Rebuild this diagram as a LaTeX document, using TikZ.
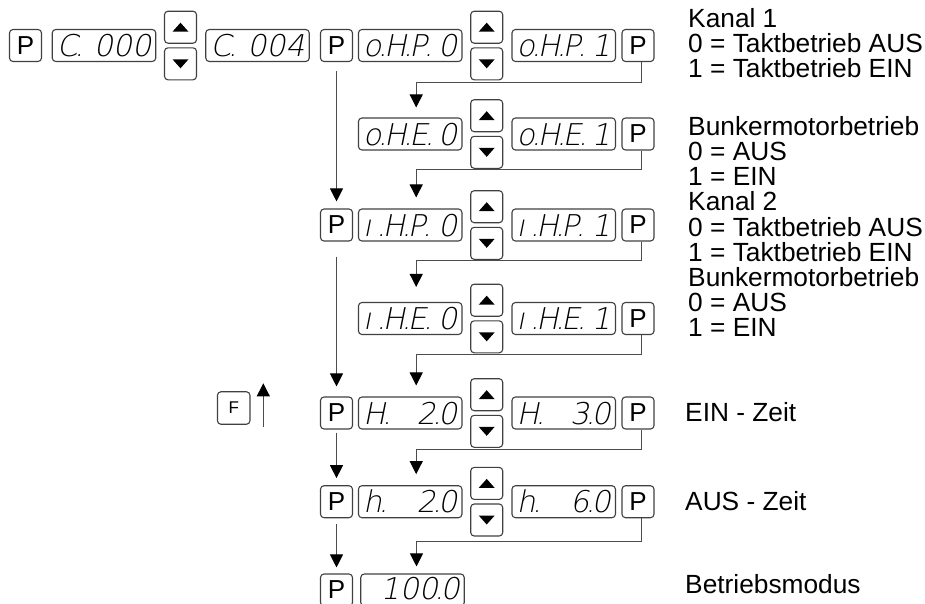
\documentclass[tikz,border=0pt]{standalone}
\usepackage{fontspec}
\setmainfont{Liberation Sans}
\newfontfamily\segfont{DejaVuSans-ExtraLight.ttf}[FakeSlant=0.2]
\usetikzlibrary{arrows.meta}
\newcommand\sdot{\kern-3.5pt.\kern-3.5pt}
\newcommand\mkdisp[4]{%
  \node[disp] (#1) at (#2) {};
  \node[seg, anchor=base west] (#1l) at ([xshift=5pt,yshift=-11pt]#1.west) {#3};
  \node[seg, anchor=base east] (#1r) at ([xshift=-5pt,yshift=-11pt]#1.east) {#4};
}
\newcommand\mkbtn[3]{%
  \node[btn] (#1u) at (#2,#3-18.3) {};
  \node[btn] (#1d) at (#2,#3+18.3) {};
  \fill (#1u.center) ++(-8,4.5) -- ++(16,0) -- ++(-8,-9) -- cycle;
  \fill (#1d.center) ++(-8,-4.5) -- ++(16,0) -- ++(-8,9) -- cycle;
}
\begin{document}
\begin{tikzpicture}[x=1pt,y=-1pt,
  box/.style={draw=black!75, line width=1.1pt, rounded corners=3.5pt},
  pkey/.style={box, minimum width=32pt, minimum height=32pt, inner sep=0pt, font=\fontsize{26}{26}\selectfont},
  fkey/.style={box, minimum width=32.5pt, minimum height=32.5pt, inner sep=0pt, font=\fontsize{17}{17}\selectfont},
  disp/.style={box, minimum width=103.5pt, minimum height=32pt, inner sep=0pt},
  btn/.style={box, minimum width=32pt, minimum height=32pt, inner sep=0pt},
  seg/.style={font=\segfont\fontsize{30}{30}\selectfont, inner sep=0pt},
  lab/.style={font=\fontsize{26.3}{25}\selectfont, anchor=base west, inner sep=0pt},
  conn/.style={draw=black!70, line width=1pt},
  arr/.style={conn, -{Triangle[length=13pt,width=13pt,color=black]}},
]
\useasboundingbox (0,0) rectangle (925,603);
% row 1
\node[pkey] (p0) at (25.5,45.5) {P};
\mkdisp{d1}{104,45.5}{C\sdot}{000}
\mkbtn{ba}{180.5}{45.5}
\mkdisp{d2}{257.5,45.5}{C\sdot}{004}
\node[pkey] (pl1) at (336.5,45.5) {P};
\mkdisp{dl1}{410.2,45.5}{o\sdot H\sdot P\sdot}{0}
\mkbtn{b1}{486.7}{45.5}
\mkdisp{dr1}{563.7,45.5}{o\sdot H\sdot P\sdot}{1}
\node[pkey] (pr1) at (638,45.5) {P};
% row 2
\mkdisp{dl2}{410.2,134}{o\sdot H\sdot E\sdot}{0}
\mkbtn{b2}{486.7}{134}
\mkdisp{dr2}{563.7,134}{o\sdot H\sdot E\sdot}{1}
\node[pkey] (pr2) at (638,134) {P};
% row 3
\node[pkey] (pl3) at (336.5,225) {P};
\mkdisp{dl3}{410.2,225}{ı\kern5pt.\kern-3.5pt H\sdot P\sdot}{0}
\mkbtn{b3}{486.7}{225}
\mkdisp{dr3}{563.7,225}{ı\kern5pt.\kern-3.5pt H\sdot P\sdot}{1}
\node[pkey] (pr3) at (638,225) {P};
% row 4
\mkdisp{dl4}{410.2,318.5}{ı\kern5pt.\kern-3.5pt H\sdot E\sdot}{0}
\mkbtn{b4}{486.7}{318.5}
\mkdisp{dr4}{563.7,318.5}{ı\kern5pt.\kern-3.5pt H\sdot E\sdot}{1}
\node[pkey] (pr4) at (638,318.5) {P};
% row 5
\node[pkey] (pl5) at (336.5,413) {P};
\mkdisp{dl5}{410.2,413}{H\sdot}{2\sdot 0}
\mkbtn{b5}{486.7}{413}
\mkdisp{dr5}{563.7,413}{H\sdot}{3\sdot 0}
\node[pkey] (pr5) at (638,413) {P};
% row 6
\node[pkey] (pl6) at (336.5,501.7) {P};
\mkdisp{dl6}{410.2,501.7}{h\sdot}{2\sdot 0}
\mkbtn{b6}{486.7}{501.7}
\mkdisp{dr6}{563.7,501.7}{h\sdot}{6\sdot 0}
\node[pkey] (pr6) at (638,501.7) {P};
% row 7
\node[pkey] (pl7) at (336.5,590) {P};
\node[disp] (dl7) at (412.5,590) {};
\node[seg, anchor=base east] (dl7r) at ([xshift=-5pt,yshift=-9pt]dl7.east) {100\sdot 0};
% F key
\node[fkey] (fk) at (233.7,408) {F};
\coordinate (fa) at (263.3,426.7);
\coordinate (fb) at (263.3,383.3);
\draw[arr] (fa) -- (fb);
% left vertical arrows
\draw[arr, shorten <=9pt, shorten >=7pt] (pl1.south) -- (pl3.north);
\draw[arr, shorten <=15pt, shorten >=10pt] (pl3.south) -- (pl5.north);
\draw[arr, shorten <=3pt, shorten >=7pt] (pl5.south) -- (pl6.north);
\draw[arr, shorten <=5.5pt, shorten >=6pt] (pl6.south) -- (pl7.north);
% right connectors
\draw[arr, shorten >=10pt] ([xshift=3.5pt]pr1.south) -- ++(0,20) -| ([xshift=6pt]dl2.north);
\draw[arr, shorten >=11pt] ([xshift=3.5pt]pr2.south) -- ++(0,19.3) -| ([xshift=6pt]dl3.north);
\draw[arr, shorten >=15pt] ([xshift=3.5pt]pr3.south) -- ++(0,19) -| ([xshift=6pt]dl4.north);
\draw[arr, shorten >=11pt] ([xshift=3.5pt]pr4.south) -- ++(0,19) -| ([xshift=6pt]dl5.north);
\draw[arr, shorten >=11pt] ([xshift=3.5pt]pr5.south) -- ++(0,20) -| ([xshift=6pt]dl6.north);
\draw[arr, shorten >=7pt] ([xshift=3.5pt]pr6.south) -- ++(0,23) -| ([xshift=4pt]dl7.north);
% labels
\node[lab] (t1) at (688,27) {Kanal 1};
\node[lab] (t2) at (688,52) {0 = Taktbetrieb AUS};
\node[lab] (t3) at (688,77) {1 = Taktbetrieb EIN};
\node[lab] (t4) at (688,135) {Bunkermotorbetrieb};
\node[lab] (t5) at (688,160.3) {0 = AUS};
\node[lab] (t6) at (688,185.5) {1 = EIN};
\node[lab] (t7) at (688,210.7) {Kanal 2};
\node[lab] (t8) at (688,236) {0 = Taktbetrieb AUS};
\node[lab] (t9) at (688,261) {1 = Taktbetrieb EIN};
\node[lab] (t10) at (688,286.3) {Bunkermotorbetrieb};
\node[lab] (t11) at (688,311.5) {0 = AUS};
\node[lab] (t12) at (688,336.7) {1 = EIN};
\node[lab] (t13) at (685,421.7) {EIN - Zeit};
\node[lab] (t14) at (685,510) {AUS - Zeit};
\node[lab] (t15) at (685,593) {Betriebsmodus};
\end{tikzpicture}
\end{document}
